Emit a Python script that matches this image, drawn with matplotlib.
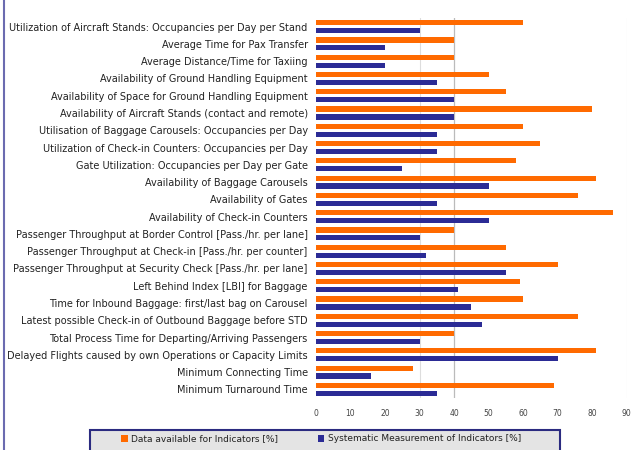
import matplotlib
matplotlib.use("Agg")
import matplotlib.pyplot as plt
import numpy as np
from matplotlib.patches import Rectangle

# -------------------------
# data
# -------------------------
indicators = [
    "Utilization of Aircraft Stands: Occupancies per Day per Stand",
    "Average Time for Pax Transfer",
    "Average Distance/Time for Taxiing",
    "Availability of Ground Handling Equipment",
    "Availability of Space for Ground Handling Equipment",
    "Availability of Aircraft Stands (contact and remote)",
    "Utilisation of Baggage Carousels: Occupancies per Day",
    "Utilization of Check-in Counters: Occupancies per Day",
    "Gate Utilization: Occupancies per Day per Gate",
    "Availability of Baggage Carousels",
    "Availability of Gates",
    "Availability of Check-in Counters",
    "Passenger Throughput at Border Control [Pass./hr. per lane]",
    "Passenger Throughput at Check-in [Pass./hr. per counter]",
    "Passenger Throughput at Security Check [Pass./hr. per lane]",
    "Left Behind Index [LBI] for Baggage",
    "Time for Inbound Baggage: first/last bag on Carousel",
    "Latest possible Check-in of Outbound Baggage before STD",
    "Total Process Time for Departing/Arriving Passengers",
    "Delayed Flights caused by own Operations or Capacity Limits",
    "Minimum Connecting Time",
    "Minimum Turnaround Time",
]
data_available = [60, 40, 40, 50, 55, 80, 60, 65, 58, 81, 76, 86,
                  40, 55, 70, 59, 60, 76, 40, 81, 28, 69]
systematic = [30, 20, 20, 35, 40, 40, 35, 35, 25, 50, 35, 50,
              30, 32, 55, 41, 45, 48, 30, 70, 16, 35]
xticks = list(range(0, 100, 10))

orange = "#FF6A00"
blue = "#2B2B95"

fig = plt.figure(figsize=(6.35, 4.5), dpi=100)
ax = fig.add_axes([0.4976, 0.1156, 0.4894, 0.8444])

y = np.arange(len(indicators))
ax.barh(y - 0.23, data_available, height=0.3, color=orange, zorder=3)
ax.barh(y + 0.23, systematic, height=0.3, color=blue, zorder=3)

ax.axvline(30, color="#dddddd", lw=0.8, zorder=1)
ax.axvline(40, color="#bbbbbb", lw=0.9, zorder=1)
ax.axvline(90, color="#e6e6e6", lw=0.8, zorder=1)

ax.set_xlim(0, 90)
ax.set_ylim(len(indicators) - 0.5, -0.5)
ax.set_yticks(y)
ax.set_yticklabels(indicators, fontsize=7, color="#222222")
ax.set_xticks(xticks)
ax.set_xticklabels([str(t) for t in xticks], fontsize=5.5, color="#444444")
ax.tick_params(axis="both", length=0, pad=6)
ax.tick_params(axis="x", pad=8)
for s in ax.spines.values():
    s.set_visible(False)

# frame line on the left edge
fig.add_artist(plt.Line2D([0.006, 0.006], [0, 1], color="#6b6bb0", lw=1.5))

# legend box (cut at the bottom edge)
fig.add_artist(Rectangle((0.142, -0.02), 0.74, 0.065, facecolor="#e4e4e4",
                         edgecolor="#2b2b80", lw=1.5, transform=fig.transFigure))
fig.add_artist(Rectangle((0.19, 0.018), 0.011, 0.016, facecolor=orange,
                         transform=fig.transFigure))
fig.text(0.207, 0.026, "Data available for Indicators [%]", fontsize=6.5,
         va="center", color="#222222")
fig.add_artist(Rectangle((0.5, 0.018), 0.011, 0.016, facecolor=blue,
                         transform=fig.transFigure))
fig.text(0.517, 0.026, "Systematic Measurement of Indicators [%]", fontsize=6.5,
         va="center", color="#222222")

fig.savefig("out.png", dpi=100)
